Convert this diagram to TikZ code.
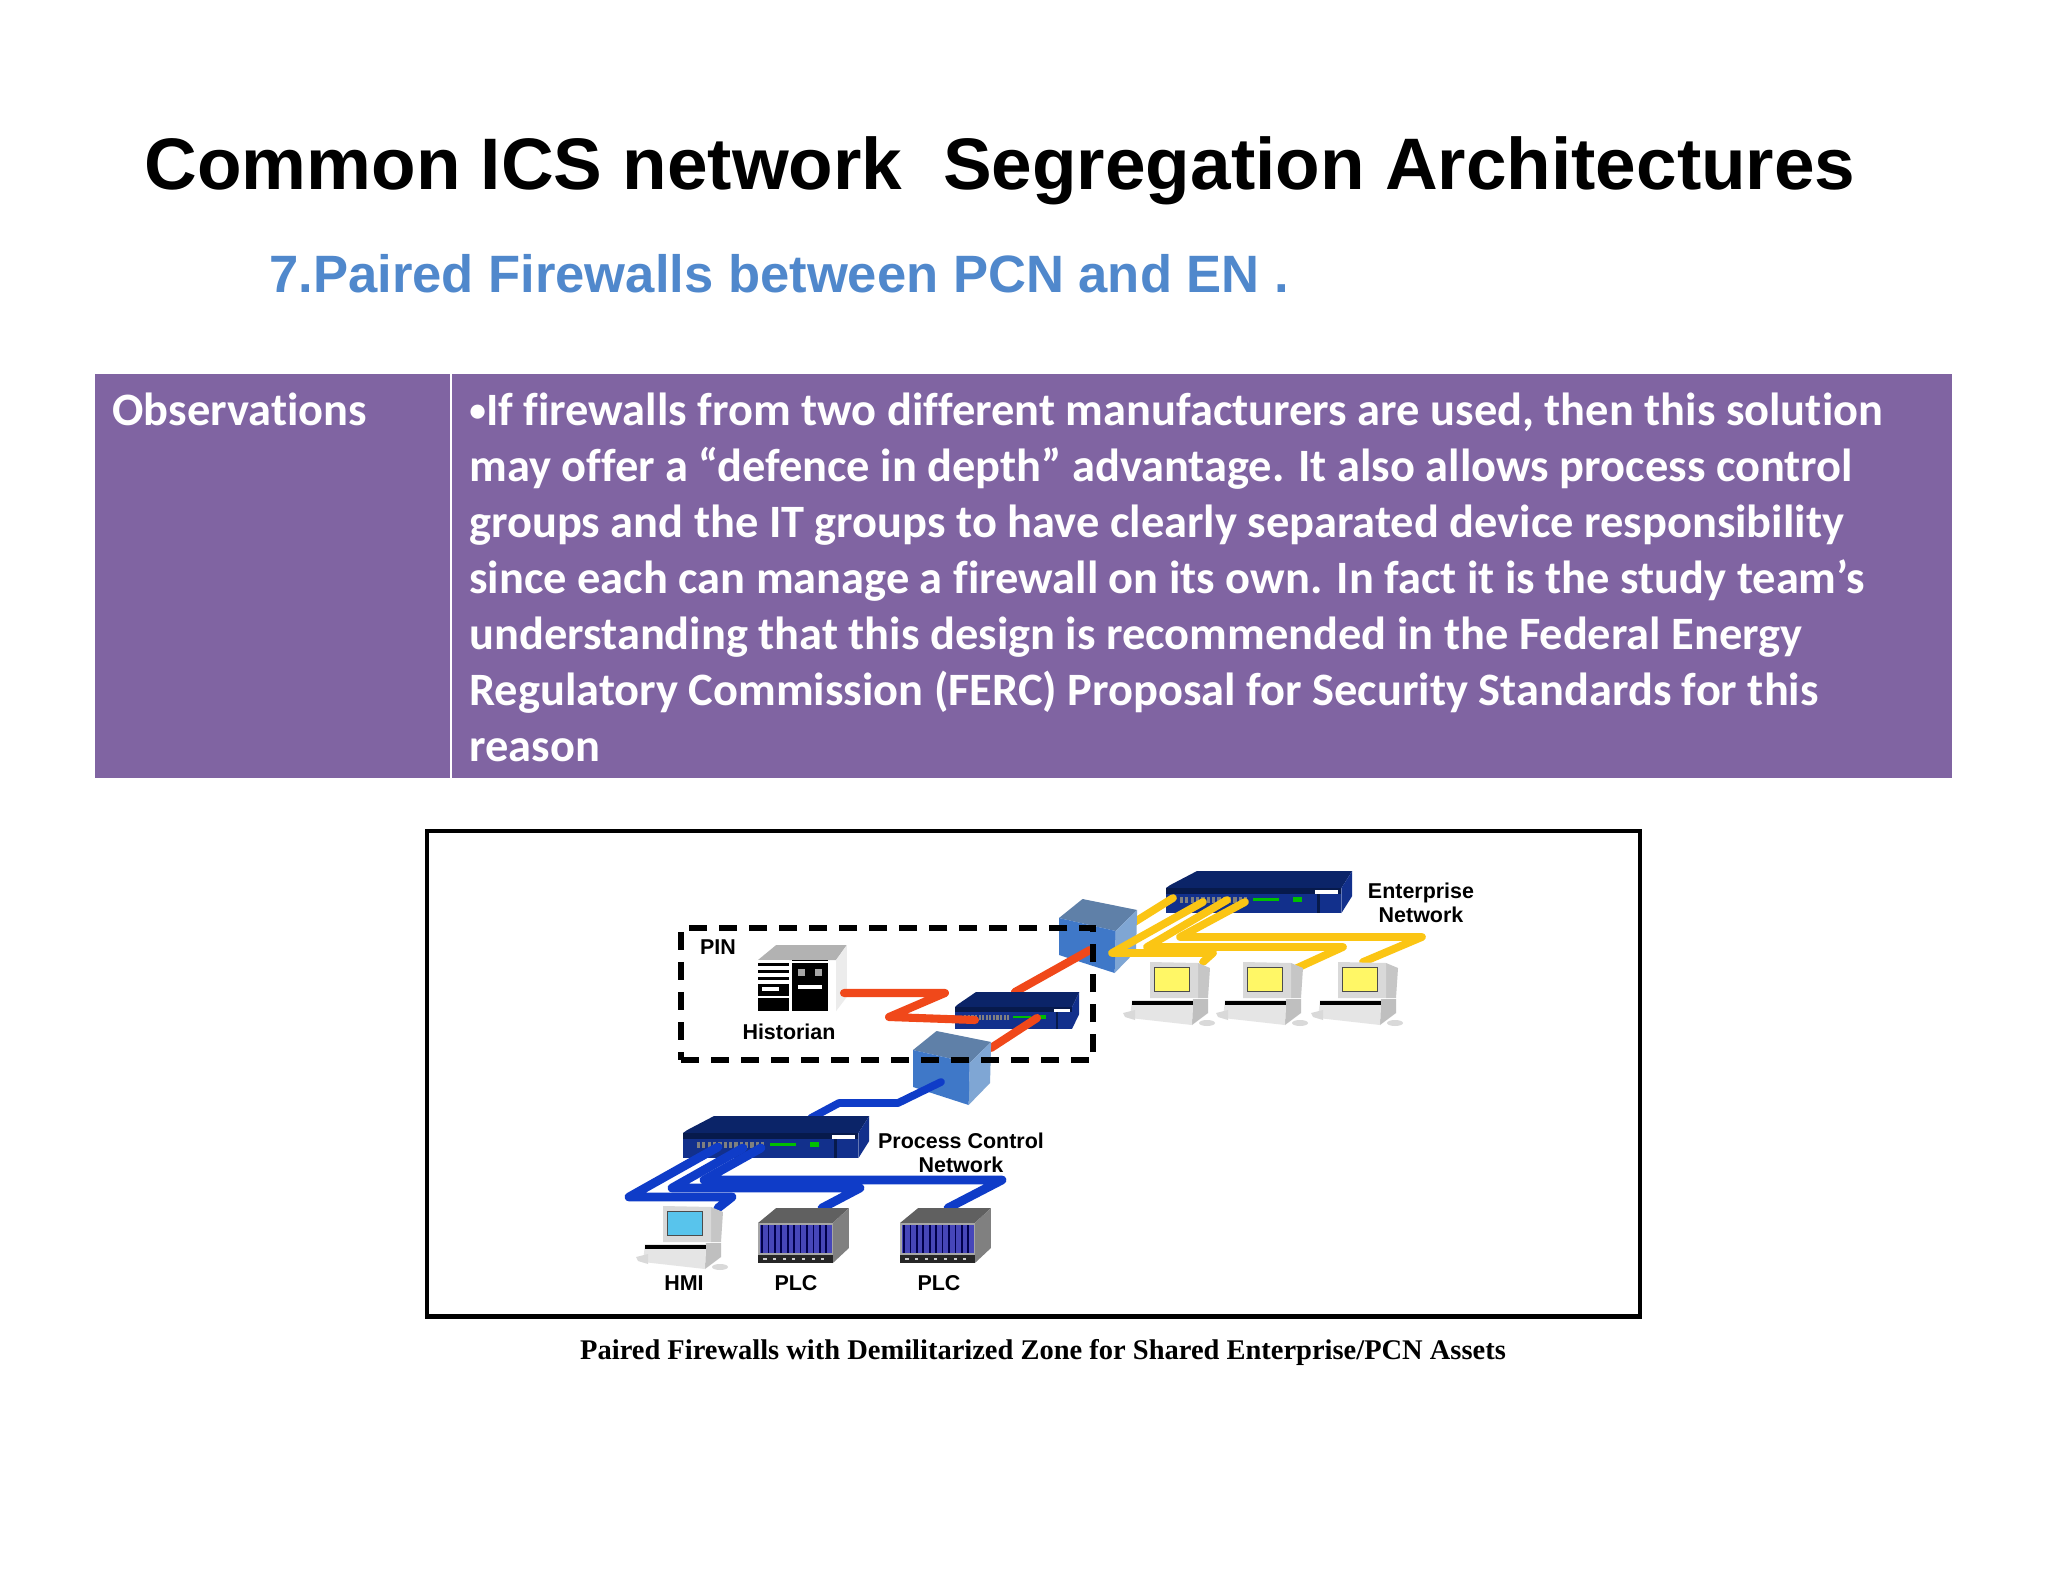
\documentclass[tikz,border=0pt]{standalone}
\usepackage{fontspec}
\setmainfont{Liberation Sans}
\newfontfamily\calfont[Ligatures=NoCommon]{Carlito}
\newfontfamily\capfont{Liberation Serif}
\usetikzlibrary{positioning, calc, arrows.meta}

\definecolor{cellpurple}{HTML}{8064A2}
\definecolor{subblue}{HTML}{5088CC}
\definecolor{redw}{HTML}{F0481A}
\definecolor{bluw}{HTML}{0F3CC8}
\definecolor{yelw}{HTML}{FBC514}
\definecolor{navytop}{HTML}{0B2468}
\definecolor{navyfront}{HTML}{12308C}
\definecolor{navyband}{HTML}{071A4C}
\definecolor{walltop}{HTML}{5F80A8}
\definecolor{wallside}{HTML}{7FA6D4}
\definecolor{wallfront}{HTML}{3F78C8}
\definecolor{hmiscreen}{HTML}{58C4EC}

\begin{document}
\begin{tikzpicture}[x=0.01cm, y=-0.01cm, >=latex, thick]
\tikzset{
  cell/.style={fill=cellpurple, anchor=north west, inner sep=0pt, outer sep=0pt, minimum height=4.04cm},
  celltxt/.style={anchor=north west, inner sep=0pt, align=left, text=white, font=\calfont\bfseries\fontsize{13.2}{15.9}\selectfont},
  lab/.style={inner sep=0pt, align=center, font=\bfseries\fontsize{6.1}{7}\selectfont},
  redc/.style={draw=redw, line width=2.3pt, line join=round, line cap=round},
  bluc/.style={draw=bluw, line width=2.2pt, line join=round, line cap=round},
  busb/.style={draw=bluw, line width=2.5pt, line join=round, line cap=round},
  yelc/.style={draw=yelw, line width=2.2pt, line join=round, line cap=round},
  pics/wall/.style={code={
    \fill[walltop] (0,0) -- (22,-19) -- (73,-8) -- (53,13) -- cycle;
    \fill[wallside] (53,13) -- (73,-8) -- (72,33) -- (52,55) -- cycle;
    \fill[wallfront] (0,0) -- (53,13) -- (52,55) -- (0,37) -- cycle;
  }},
  pics/hub/.style={code={
    \fill[navytop] (4,-3) -- (29,-17) -- (174,-17) -- (164,0) -- (0,0) -- cycle;
    \fill[navyfront] (164,0) -- (174,-17) -- (174,8) -- (164,25) -- cycle;
    \fill[navyfront] (0,0) rectangle (164,25);
    \fill[navyband] (0,0) rectangle (164,6);
    \fill[navyband] (141,6) rectangle (144,25);
    \fill[white] (139,2) rectangle (161,6);
    \fill[green!75!black] (81,10) rectangle (106,13);
    \fill[green!75!black] (119,9) rectangle (127,14);
    \foreach \px in {13,18,...,75} \fill[gray] (\px,9) rectangle ++(3,6);
  }},
  pics/pc/.style={code={
    \fill[gray!45] (43,-5) -- (55,0) -- (53,30) -- (43,30) -- cycle;
    \fill[gray!30] (-5,-6) -- (43,-5) -- (43,30) -- (-5,30) -- cycle;
    \fill[black!70] (-1,-1) rectangle (35,24);
    \fill[#1] (0,0) rectangle (34,23);
    \fill[gray!50] (38,31) -- (53,31) -- (53,45) -- (37,57) -- cycle;
    \fill[gray!20] (-23,32) -- (38,32) -- (37,57) -- (-25,50) -- cycle;
    \fill[black] (-23,33) rectangle (38,37);
    \fill[gray!30] (-32,45) -- (-20,42) -- (-20,52) -- (-30,49) -- cycle;
    \fill[gray!30] (52,55) ellipse (8 and 3);
  }},
  pics/plc/.style={code={
    \fill[gray!75!black] (0,0) -- (17,-15) -- (85,-15) -- (70,0) -- cycle;
    \fill[gray] (70,0) -- (85,-15) -- (85,25) -- (70,40) -- cycle;
    \fill[gray!70] (0,0) rectangle (70,40);
    \fill[blue!45!gray] (2,2) rectangle (69,30);
    \foreach \px in {3,9,...,68} \fill[black!70!blue] (\px,2) rectangle ++(1.5,28);
    \fill[black!85] (0,32) rectangle (70,40);
    \foreach \px in {5,14,...,65} \fill[gray!40] (\px,35) rectangle ++(3,2);
  }},
  pics/hist/.style={code={
    \fill[gray!60] (0,0) -- (17,-15) -- (83,-15) -- (73,0) -- cycle;
    \fill[gray!15] (73,0) -- (83,-15) -- (83,37) -- (73,51) -- cycle;
    \fill[white] (0,0) rectangle (29,51);
    \foreach \py in {3,10,17} \fill[black] (0,\py) rectangle (29,\py+3);
    \fill[black] (0,24) rectangle (29,36);
    \fill[white] (4,27) rectangle (20,31);
    \fill[black] (0,38) rectangle (29,51);
    \fill[black] (32,0) rectangle (65,51);
    \fill[white] (32,1) rectangle (65,3);
    \fill[gray!70] (37,9) rectangle (44,16);
    \fill[gray!70] (53,9) rectangle (60,16);
    \fill[white] (37,25) rectangle (60,29);
  }}
}
\useasboundingbox (0,0) rectangle (2048,1582);
\fill[white] (0,0) rectangle (2048,1582);

% titles
\node[anchor=base west, inner sep=0pt, font=\bfseries\fontsize{20.75}{25}\selectfont] (title) at (143,190) {Common ICS network\ \ Segregation Architectures};
\node[anchor=base west, inner sep=0pt, text=subblue, font=\bfseries\fontsize{14.95}{18}\selectfont] (subtitle) at (268,292) {7.Paired Firewalls between PCN and EN .};

% table
\node[cell, minimum width=3.55cm] (obsCell) at (95,374) {};
\node[cell, minimum width=14.99cm] (txtCell) at (452,374) {};
\node[celltxt] (obsTxt) at (111,392) {Observations};
\node[celltxt] (bodyTxt) at (468,392) {\raisebox{0.1em}{\fontsize{9.5}{15.9}\selectfont •}If firewalls from two different manufacturers are used, then this solution\\
may offer a “defence in depth” advantage. It also allows process control\\
groups and the IT groups to have clearly separated device responsibility\\
since each can manage a firewall on its own. In fact it is the study team’s\\
understanding that this design is recommended in the Federal Energy\\
Regulatory Commission (FERC) Proposal for Security Standards for this\\
reason};

% figure frame
\node[draw, line width=1.2pt, anchor=north west, inner sep=0pt, minimum width=12.12cm, minimum height=4.85cm] (frame) at (425,829) {};
\node[anchor=base, inner sep=0pt, font=\capfont\bfseries\fontsize{8.1}{9}\selectfont] (caption) at (1043,1359) {Paired Firewalls with Demilitarized Zone for Shared Enterprise/PCN Assets};

% cable ends
\coordinate (histR) at (844,993);
\coordinate (hubIl) at (975,1020);
\coordinate (hubIt) at (1015,992);
\coordinate (hubIp) at (1037,1018);
\coordinate (wallEf) at (1090,950);
\coordinate (wallPt) at (991,1048);
\coordinate (wallPf) at (941,1082);
\coordinate (hubPt) at (811,1118);
\coordinate (hubPa) at (718,1147);
\coordinate (hubPb) at (743,1148);
\coordinate (hubPc) at (761,1148);
\coordinate (hmiT) at (718,1208);
\coordinate (plcAt) at (822,1208);
\coordinate (plcBt) at (948,1208);
\coordinate (hubEa) at (1173,898);
\coordinate (hubEb) at (1203,902);
\coordinate (hubEc) at (1227,900);
\coordinate (hubEd) at (1245,902);
\coordinate (wallEr) at (1125,928);
\coordinate (pcAt) at (1203,962);
\coordinate (pcBt) at (1297,968);
\coordinate (pcCt) at (1363,962);

% enterprise side
\pic[xscale=1.07] (hubE) at (1166,888) {hub};
\draw[yelc] (hubEa) -- (wallEr);
\pic[xscale=1.07] (wallE) at (1059,918) {wall};
\draw[yelc] (hubEb) -- (1112,953) -- (1213,953) -- (pcAt);
\draw[yelc] (hubEc) -- (1147,947) -- (1343,947) -- (pcBt);
\draw[yelc] (hubEd) -- (1180,937) -- (1422,937) -- (pcCt);
\pic (pcA) at (1155,968) {pc={yellow!60}};
\pic (pcB) at (1248,968) {pc={yellow!60}};
\pic (pcC) at (1343,968) {pc={yellow!60}};

% PIN
\draw[redc] (hubIt) -- (wallEf);
\pic[xscale=.714, yscale=.87] (hubI) at (955,1007) {hub};
\pic[xscale=1.07] (histor) at (758,960) {hist};
\draw[redc] (histR) -- (945,993) -- (889,1017) -- (hubIl);
\draw[redc] (hubIp) -- (wallPt);

% process control side
\pic[xscale=1.07] (wallP) at (913,1050) {wall};
\draw[bluc] (wallPf) -- (898,1103) -- (839,1103) -- (hubPt);
\pic[xscale=1.07] (hubP) at (683,1133) {hub};
\draw[busb] (hubPa) -- (629,1197) -- (732,1197) -- (hmiT);
\draw[busb] (hubPb) -- (672,1188) -- (860,1188) -- (plcAt);
\draw[busb] (hubPc) -- (704,1180) -- (1002,1180) -- (plcBt);
\pic (hmi) at (668,1212) {pc={hmiscreen}};
\pic[xscale=1.07] (plcA) at (758,1223) {plc};
\pic[xscale=1.07] (plcB) at (900,1223) {plc};

% PIN boundary
\node[draw, dash pattern=on 0.18cm off 0.12cm, line width=1.7pt, anchor=north west, inner sep=0pt, minimum width=4.12cm, minimum height=1.32cm] (pinBox) at (678,925) {};

% labels
\node[lab] (pinLab) at (718,947) {PIN};
\node[lab] (histLab) at (789,1032) {Historian};
\node[lab] (pcnLab) at (961,1153) {Process Control\\Network};
\node[lab] (hmiLab) at (684,1283) {HMI};
\node[lab] (plcLabA) at (796,1283) {PLC};
\node[lab] (plcLabB) at (939,1283) {PLC};
\node[lab] (entLab) at (1421,903) {Enterprise\\Network\hspace{0.45em}};

\end{tikzpicture}
\end{document}
